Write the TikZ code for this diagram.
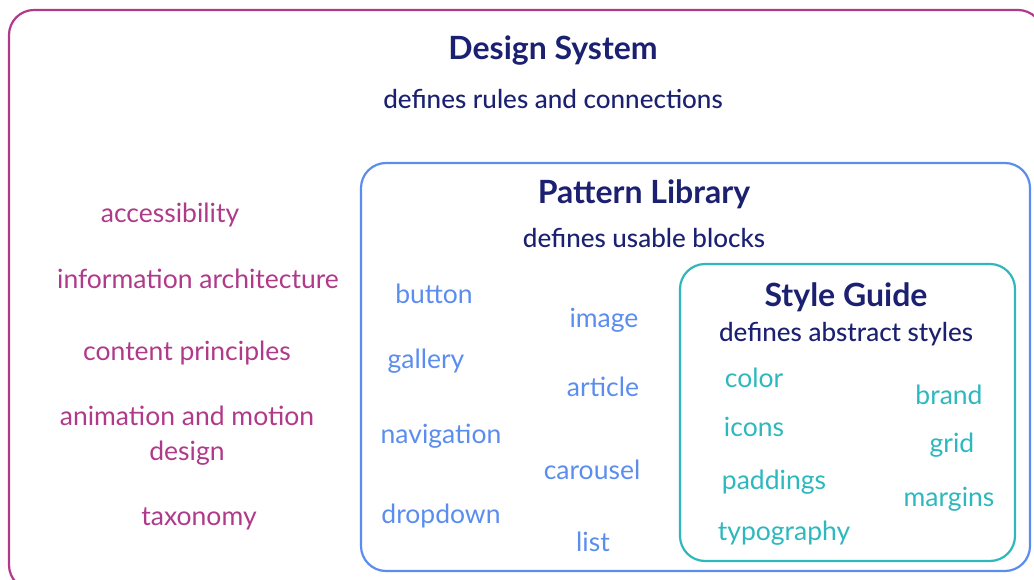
\documentclass[tikz,border=0pt]{standalone}
\usepackage{fontspec}
\setmainfont{Lato}
\newfontfamily\latomed{Lato}[UprightFont=* Medium]
\definecolor{navy}{HTML}{1B2170}
\definecolor{dsmag}{HTML}{B03A8A}
\definecolor{plblue}{HTML}{5B8DEF}
\definecolor{sgteal}{HTML}{2DB8BF}
\tikzset{
  title/.style={font=\fontsize{32}{34}\selectfont\bfseries, text=navy, yshift=-2pt},
  subtitle/.style={font=\fontsize{26}{28}\selectfont\latomed, text=navy, yshift=-1pt},
  item/.style={font=\fontsize{26.5}{35}\selectfont, align=center, yshift=-2pt},
  frame/.style={line width=2.2pt, rounded corners=25pt}
}
\begin{document}
\begin{tikzpicture}[x=1pt,y=-1pt]
      \useasboundingbox (0,0) rectangle (1034,580);
      % the three nested boxes
      \draw[frame,dsmag] (9,10) rectangle (1043,590);
      \draw[frame,plblue] (361,163) rectangle (1030,571);
      \draw[frame,sgteal] (680,264) rectangle (1015,561);
      % headings
      \node[title] (ds) at (553,49) {Design System};
      \node[subtitle] (dssub) at (553,98) {defines rules and connections};
      \node[title] (pl) at (644,192) {Pattern Library};
      \node[subtitle] (plsub) at (644,237) {defines usable blocks};
      \node[title] (sg) at (846,295) {Style Guide};
      \node[subtitle] (sgsub) at (846,333) {defines abstract styles};
      % design system
      \node[item,dsmag] (acc) at (170,213) {accessibility};
      \node[item,dsmag] (ia) at (198,277) {information architecture};
      \node[item,dsmag] (cp) at (187,351) {content principles};
      \node[item,dsmag] (anim) at (187,434) {animation and motion\\design};
      \node[item,dsmag] (tax) at (199,517) {taxonomy};
      % pattern library
      \node[item,plblue] (button) at (434,292) {button};
      \node[item,plblue] (gallery) at (426,359) {gallery};
      \node[item,plblue] (nav) at (441,434) {navigation};
      \node[item,plblue] (drop) at (441,514) {dropdown};
      \node[item,plblue] (image) at (604,318) {image};
      \node[item,plblue] (article) at (603,385) {article};
      \node[item,plblue] (carousel) at (592,468) {carousel};
      \node[item,plblue] (list) at (593,540) {list};
      % style guide
      \node[item,sgteal] (color) at (754,376) {color};
      \node[item,sgteal] (icons) at (754,425) {icons};
      \node[item,sgteal] (pad) at (774,480) {paddings};
      \node[item,sgteal] (typo) at (784,531) {typography};
      \node[item,sgteal] (brand) at (949,393) {brand};
      \node[item,sgteal] (grid) at (952,443) {grid};
      \node[item,sgteal] (margins) at (949,497) {margins};
\end{tikzpicture}
\end{document}
